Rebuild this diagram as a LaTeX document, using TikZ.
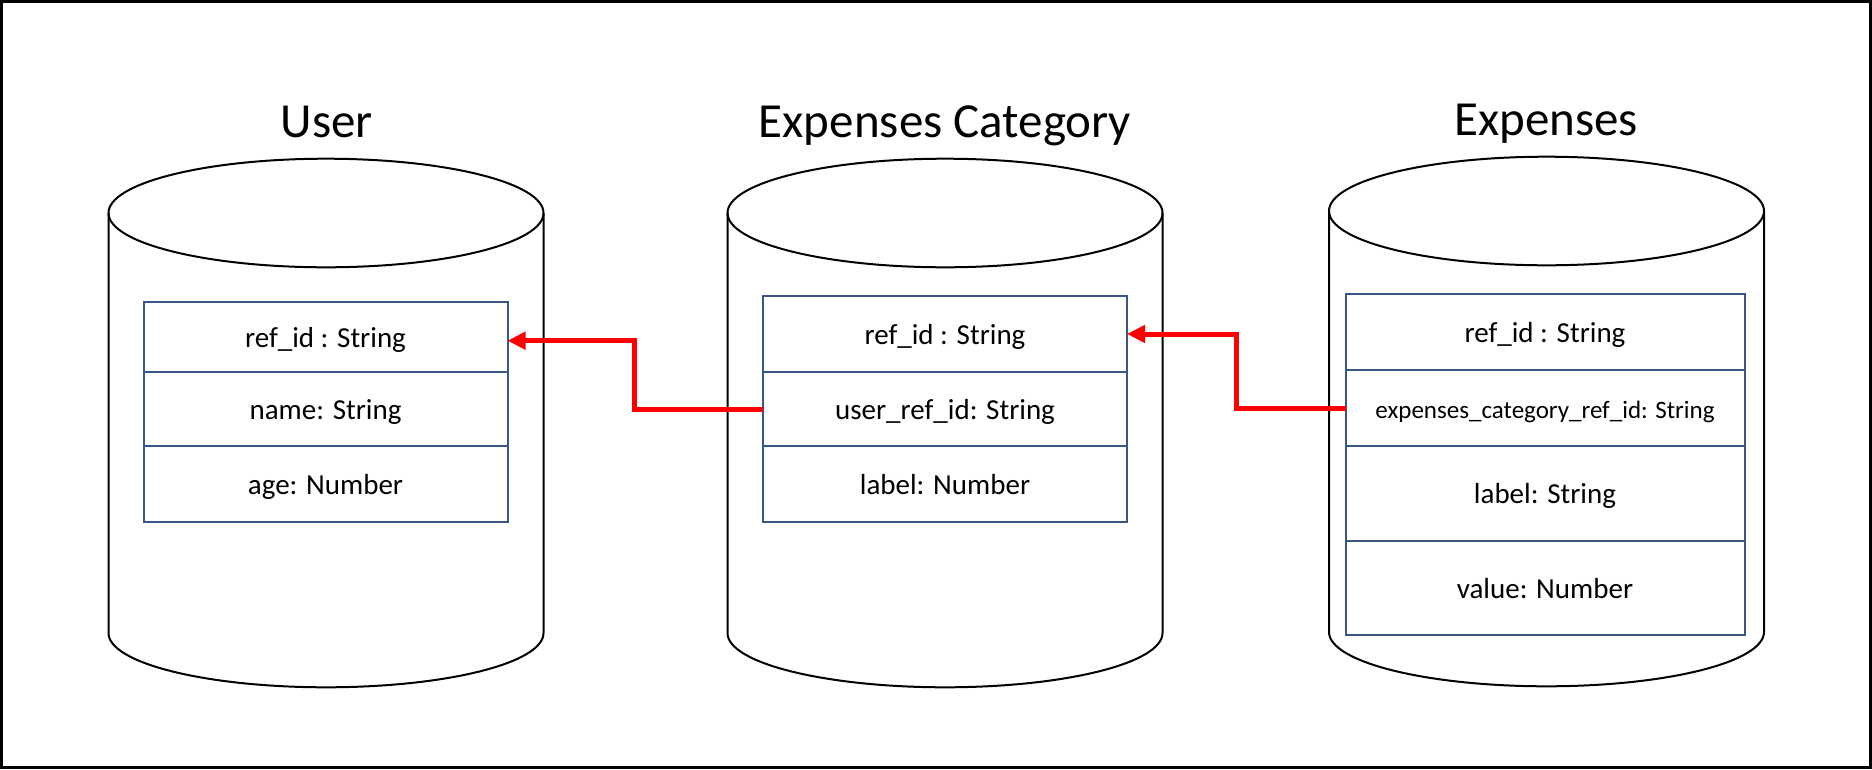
\documentclass[tikz,border=0pt]{standalone}
\usepackage{fontspec}
\setmainfont{Carlito}
\usetikzlibrary{positioning,arrows.meta}
\definecolor{tblblue}{RGB}{56,87,135}

\begin{document}
\begin{tikzpicture}[x=1pt, y=-1pt,
  cyl/.style={draw=black, line width=2pt},
  title/.style={font=\fontsize{49}{58}\selectfont, inner sep=0pt},
  field/.style={draw=tblblue, line width=2pt, inner sep=0pt, outer sep=0pt, text height=22pt, text depth=2pt, font=\fontsize{29}{34}\selectfont},
  fk/.style={draw=red, line width=5pt, -{Triangle[length=18pt,width=17pt]}}]
\useasboundingbox (0,0) rectangle (1872,769);
\draw[line width=3pt] (1.5,1.5) rectangle (1870.5,767.5);

% the three stores
\foreach \cx/\ty/\by in {326/213/633, 945/213/633, 1546.5/211/632} {
  \draw[cyl] (\cx-217.5,\ty) -- (\cx-217.5,\by) arc[start angle=180, end angle=360, x radius=217.5pt, y radius=54.3pt] -- (\cx+217.5,\ty);
  \draw[cyl] (\cx,\ty) ellipse[x radius=217.5pt, y radius=54.3pt];
}

\node[title, anchor=base] (tuser) at (327,137) {User};
\node[title, anchor=base] (tcat) at (945,137) {Expenses Category};
\node[title, anchor=base] (texp) at (1546,135) {Expenses};

% User
\node[field, minimum width=364pt, minimum height=70pt, anchor=north] (uref) at (325.5,302) {ref\_id : String};
\node[field, minimum width=364pt, minimum height=74pt, below=0pt of uref] (uname) {name: String};
\node[field, minimum width=364pt, minimum height=76pt, below=0pt of uname] (uage) {age: Number};

% Expenses Category
\node[field, minimum width=364pt, minimum height=76pt, anchor=north] (ecref) at (945,296) {ref\_id : String};
\node[field, minimum width=364pt, minimum height=74pt, below=0pt of ecref] (ecuser) {user\_ref\_id: String};
\node[field, minimum width=364pt, minimum height=76pt, below=0pt of ecuser] (eclabel) {label: Number};

% Expenses
\node[field, minimum width=399pt, minimum height=76pt, anchor=north] (exref) at (1545,294) {ref\_id : String};
\node[field, minimum width=399pt, minimum height=76pt, below=0pt of exref, font=\fontsize{25}{30}\selectfont] (excat) {expenses\_category\_ref\_id: String};
\node[field, minimum width=399pt, minimum height=95pt, below=0pt of excat] (exlabel) {label: String};
\node[field, minimum width=399pt, minimum height=94pt, below=0pt of exlabel] (exvalue) {value: Number};

% references
\draw[fk] (ecuser.west) -- ++(-129,0) |- ([yshift=-3.7pt]uref.east);
\draw[fk] (excat.west) -- ++(-109,0) |- (ecref.east);
\end{tikzpicture}
\end{document}
